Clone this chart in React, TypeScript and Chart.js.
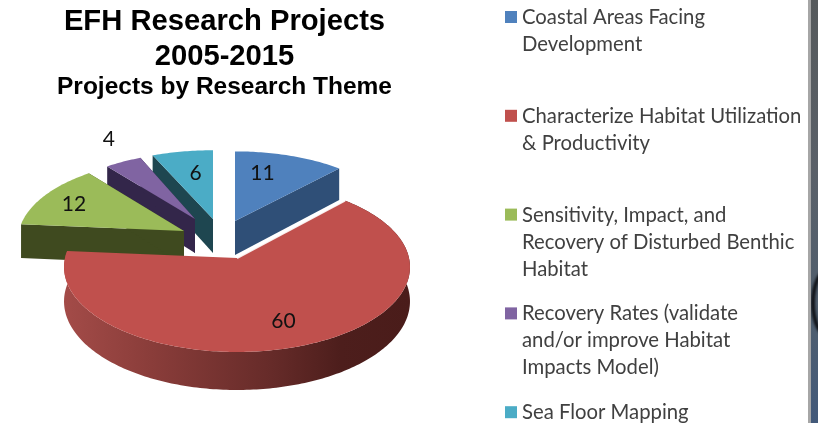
import React, { useEffect, useRef } from "react";
import { Chart, registerables } from "chart.js";

Chart.register(...registerables);

const titleLines = ["EFH Research Projects", "2005-2015"];
const subtitle = "Projects by Research Theme";
const categories = [
  ["Coastal Areas Facing", "Development"],
  ["Characterize Habitat Utilization", "& Productivity"],
  ["Sensitivity, Impact, and", "Recovery of Disturbed Benthic", "Habitat"],
  ["Recovery Rates (validate", "and/or improve Habitat", "Impacts Model)"],
  ["Sea Floor Mapping"],
];
const values = [11, 60, 12, 4, 6];
const colors = ["#4F81BD", "#C0504D", "#9BBB59", "#8064A2", "#4BACC6"];
const sideColors = ["#2F4F77", "#8f3f3c", "#3F4A1F", "#33264A", "#1E4650"];

// 3D look of the exploded pie: where each slice's tip sits and how far it reaches
const tips = [[235, 221], [237, 258], [184, 231], [195, 219], [213, 219]];
const reach = [[166, 77], [172, 84], [165, 80], [152, 73], [168, 76]];
const labelNudge = [[-11, -2, 0.7], [-2, 2, 0.7], [-13, -2, 0.7], [0, -11, 1.2], [4, 1, 0.7]];
const drawOrder = [4, 3, 2, 0, 1];
const PERSPECTIVE = 0.106;
const DEPTH = 34;

function pie3d(chart: any) {
  const ctx = chart.ctx as CanvasRenderingContext2D;
  const arcs = chart.getDatasetMeta(0).data as any[];
  const TOP = -Math.PI / 2;

  const point = (i: number, a: number, r: number, drop = 0) => {
    const t = a - TOP;
    const w = 1 + PERSPECTIVE * Math.cos(t);
    return [
      tips[i][0] + (r * reach[i][0] * Math.sin(t)) / w,
      tips[i][1] - (r * reach[i][1] * Math.cos(t)) / w + drop / w,
    ];
  };
  const sweep = (i: number, a0: number, a1: number, drop = 0) => {
    const n = Math.max(2, Math.ceil((Math.abs(a1 - a0) * 180) / Math.PI));
    const pts: number[][] = [];
    for (let k = 0; k <= n; k++) pts.push(point(i, a0 + ((a1 - a0) * k) / n, 1, drop));
    return pts;
  };
  const fillPoly = (pts: number[][], fill: any) => {
    ctx.beginPath();
    pts.forEach((p, k) => (k ? ctx.lineTo(p[0], p[1]) : ctx.moveTo(p[0], p[1])));
    ctx.closePath();
    ctx.fillStyle = fill;
    ctx.fill();
  };

  ctx.save();
  drawOrder.forEach((i) => {
    const { startAngle: s, endAngle: e } = arcs[i].getProps(["startAngle", "endAngle"], true);
    const tip = point(i, s, 0);
    const tipLow = [tip[0], tip[1] + DEPTH];
    const top = sweep(i, s, e);
    const low = sweep(i, s, e, DEPTH);
    if (i === 1) {
      const g = ctx.createLinearGradient(tips[1][0] - reach[1][0], 0, tips[1][0] + reach[1][0], 0);
      g.addColorStop(0, "#A34B48");
      g.addColorStop(0.25, "#8A3D3A");
      g.addColorStop(0.6, "#662B29");
      g.addColorStop(0.8, "#4D1E1C");
      g.addColorStop(1, "#4A1C1A");
      fillPoly([...top, ...low.slice().reverse()], g);
    } else {
      fillPoly([tip, top[0], low[0], tipLow], sideColors[i]);
      fillPoly([tip, top[top.length - 1], low[low.length - 1], tipLow], sideColors[i]);
    }
    fillPoly([tip, ...top], colors[i]);
    if (i === 1) {
      ctx.strokeStyle = "rgba(255,255,255,0.9)";
      ctx.lineWidth = 2;
      ctx.beginPath();
      ctx.moveTo(top[0][0], top[0][1]);
      ctx.lineTo(tip[0], tip[1]);
      ctx.stroke();
    }
  });

  ctx.font = "21px Lato";
  ctx.fillStyle = "#111";
  ctx.textAlign = "center";
  ctx.textBaseline = "middle";
  values.forEach((v, i) => {
    const { startAngle: s, endAngle: e } = arcs[i].getProps(["startAngle", "endAngle"], true);
    const p = point(i, (s + e) / 2, labelNudge[i][2]);
    ctx.fillText(String(v), p[0] + labelNudge[i][0], p[1] + labelNudge[i][1]);
  });

  // title
  ctx.fillStyle = "#000";
  ctx.font = 'bold 29.2px "Liberation Sans"';
  titleLines.forEach((t, k) => ctx.fillText(t, 224.5, 22 + k * 34.5));
  ctx.font = 'bold 24.5px "Liberation Sans"';
  ctx.fillText(subtitle, 224.5, 87);

  // legend
  ctx.textAlign = "left";
  ctx.font = "20.3px Lato";
  categories.forEach((lines, i) => {
    const y = 17.5 + i * 98.8;
    ctx.fillStyle = colors[i];
    ctx.fillRect(505, y - 6.5, 12, 12);
    ctx.fillStyle = "#404040";
    lines.forEach((line, k) => ctx.fillText(line, 522, y + k * 27));
  });
  ctx.restore();
}

const piePlugin = {
  id: "pie3d",
  beforeDatasetsDraw(chart: any) {
    pie3d(chart);
    return false;
  },
};

export default function App() {
  const ref = useRef<HTMLCanvasElement>(null);
  useEffect(() => {
    document.body.style.margin = "0";
    document.body.style.background = "#fff";
    const chart = new Chart(ref.current!, {
      type: "pie",
      data: {
        labels: categories.map((c) => c.join(" ")),
        datasets: [{ data: values, backgroundColor: colors, borderWidth: 0 }],
      },
      options: {
        animation: false,
        responsive: false,
        devicePixelRatio: 1,
        plugins: { legend: { display: false }, tooltip: { enabled: false } },
      },
      plugins: [piePlugin],
    });
    return () => chart.destroy();
  }, []);
  return (
    <div style={{ position: "relative", width: 818, height: 423, overflow: "hidden" }}>
      <canvas ref={ref} width={808} height={423} style={{ display: "block", filter: "blur(0.45px)" }} />
      <div style={{ position: "absolute", left: 808, top: 0, width: 3, height: 423, background: "#a6a6a6" }} />
      <div
        style={{
          position: "absolute",
          left: 811,
          top: 0,
          width: 7,
          height: 423,
          overflow: "hidden",
          background: "linear-gradient(180deg,#565a5c 0,#5a6068 40%,#4f5e6e 75%,#42597a 100%)",
        }}
      >
        <div
          style={{
            position: "absolute",
            left: 0,
            top: 268,
            width: 26,
            height: 62,
            borderRadius: "50%",
            border: "4px solid #111419",
            filter: "blur(1px)",
          }}
        />
      </div>
    </div>
  );
}
